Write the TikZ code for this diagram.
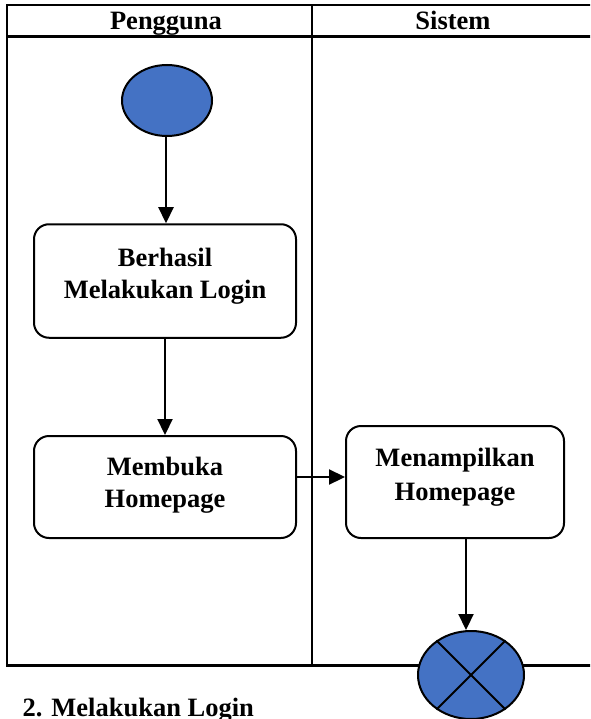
\documentclass[tikz,border=0pt]{standalone}
\usepackage{fontspec}
\setmainfont{Liberation Serif}
\usetikzlibrary{arrows.meta,shapes.geometric}
\definecolor{ublue}{HTML}{4472C4}
\tikzset{
  lane/.style={line width=2.2pt},
  actbox/.style={draw, line width=2pt, rounded corners=15pt, inner sep=0pt},
  txt/.style={font=\fontsize{26.5}{32}\selectfont\bfseries, align=center, inner sep=0pt},
  flow/.style={line width=2.2pt, -{Triangle[length=16pt,width=15pt]}},
  startnode/.style={ellipse, draw, line width=2pt, fill=ublue, minimum width=90pt, minimum height=71pt, inner sep=0pt},
  endnode/.style={ellipse, draw, line width=2pt, fill=ublue, minimum width=106pt, minimum height=88pt, inner sep=0pt},
}
\begin{document}
\begin{tikzpicture}[x=1pt,y=-1pt]
\useasboundingbox (0,0) rectangle (590,719);
\clip (0,0) rectangle (590,719);
% swimlane table
\coordinate (tl) at (7,5);
\coordinate (tr) at (595,5);
\coordinate (hl) at (7,36.5);
\coordinate (hr) at (595,36.5);
\coordinate (bl) at (7,665.5);
\coordinate (br) at (595,665.5);
\coordinate (dt) at (312,5);
\coordinate (db) at (312,665.5);
\draw[lane] (tr) -- (tl) -- (bl) -- (br);
\draw[lane] (hl) -- (hr);
\draw[lane] (dt) -- (db);
\node[txt, anchor=base] (h1) at (166,30) {Pengguna};
\node[txt, anchor=base] (h2) at (453,30) {Sistem};
% start
\node[startnode] (start) at (167,100.5) {};
% activity boxes
\node[actbox, minimum width=262pt, minimum height=113.5pt] (box1) at (165,281) {};
\node[txt, anchor=base] (t1a) at (165,266) {Berhasil};
\node[txt, anchor=base] (t1b) at (165,298) {Melakukan Login};
\node[actbox, minimum width=262pt, minimum height=102pt] (box2) at (165,487) {};
\node[txt, anchor=base] (t2a) at (165,475.5) {Membuka};
\node[txt, anchor=base] (t2b) at (165,507) {Homepage};
\node[actbox, minimum width=218pt, minimum height=112pt] (box3) at (455,482) {};
\node[txt, anchor=base] (t3a) at (455,466) {Menampilkan};
\node[txt, anchor=base] (t3b) at (455,500) {Homepage};
% end
\node[endnode] (end) at (471,675) {};
\draw[line width=2pt] (end.45) -- (end.225);
\draw[line width=2pt] (end.135) -- (end.315);
% connectors
\draw[flow] ([xshift=-1pt]start.south) -- ([xshift=-1pt]start.south |- box1.north);
\draw[flow] (box1.south) -- (box2.north);
\draw[flow] (box2.east |- 0,477) -- (box3.west |- 0,477);
\draw[flow] ([xshift=11pt]box3.south) -- ([xshift=11pt]box3.south |- end.north);
% caption
\node[txt, anchor=base west] (cap) at (22.5,716) {2. Melakukan Login};
\end{tikzpicture}
\end{document}
